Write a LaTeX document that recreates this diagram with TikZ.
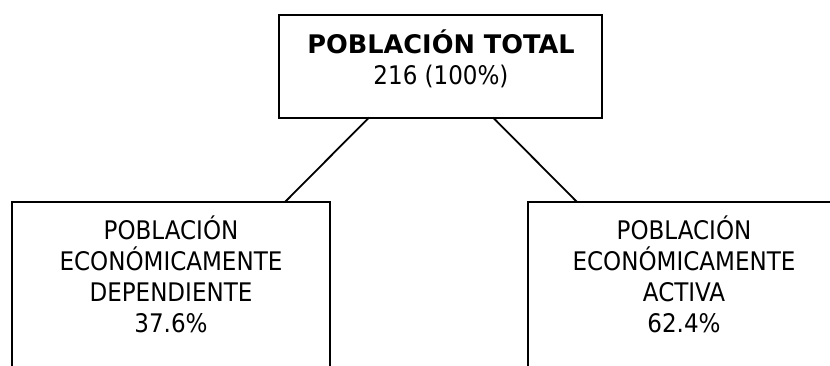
\documentclass[tikz,border=0pt]{standalone}
\usepackage{fontspec}
\setmainfont{DejaVu Sans Condensed}[BoldFont={DejaVu Sans Bold}]
\begin{document}
\begin{tikzpicture}[x=1pt,y=-1pt,
  boxframe/.style={draw=black, line width=2pt, rectangle, inner sep=0pt},
  boxtext/.style={align=center, inner sep=0pt, font=\fontsize{25.6}{31}\selectfont},
  link/.style={draw=black, line width=1.8pt}]
\useasboundingbox (0,0) rectangle (830,365);
\clip (0,0) rectangle (830,365);
% top box
\node[boxframe, minimum width=323pt, minimum height=103pt] (top) at (440.5,66.5) {};
\node[boxtext, anchor=base] (toptxt) at (441,84.5) {\textbf{POBLACIÓN TOTAL}\\216 (100\%)};
% left box
\node[boxframe, minimum width=318pt, minimum height=260pt] (ped) at (170.5,332) {};
\node[boxtext, anchor=base] (pedtxt) at (171,332) {POBLACIÓN\\ECONÓMICAMENTE\\DEPENDIENTE\\37.6\%};
% right box
\node[boxframe, minimum width=312pt, minimum height=260pt] (pea) at (684,332) {};
\node[boxtext, anchor=base] (peatxt) at (684,332) {POBLACIÓN\\ECONÓMICAMENTE\\ACTIVA\\62.4\%};
% connectors
\coordinate (tl) at (369,117.5);
\coordinate (tr) at (493,117.5);
\coordinate (bl) at (285,202);
\coordinate (br) at (577,202);
\draw[link] (tl) -- (bl);
\draw[link] (tr) -- (br);
\end{tikzpicture}
\end{document}
